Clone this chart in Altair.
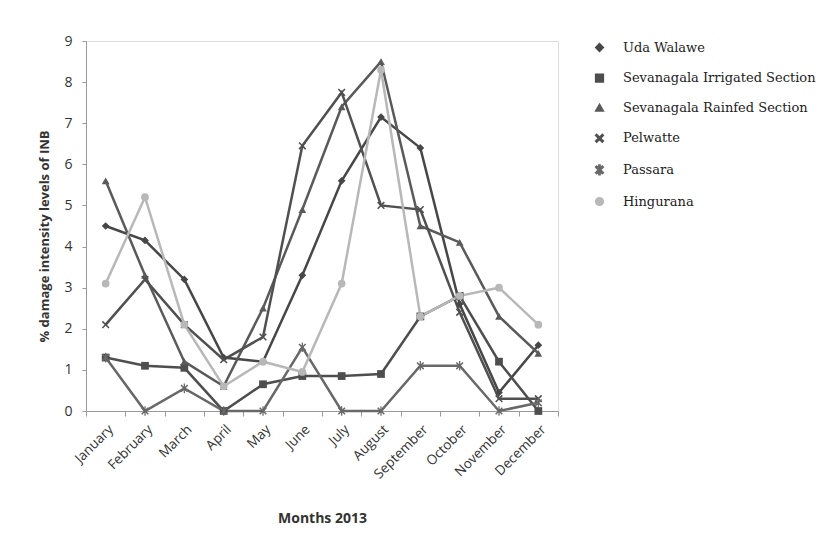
import altair as alt
import pandas as pd

months = ["January", "February", "March", "April", "May", "June", "July",
          "August", "September", "October", "November", "December"]
series_names = ["Uda Walawe", "Sevanagala Irrigated Section", "Sevanagala Rainfed Section",
                "Pelwatte", "Passara", "Hingurana"]

uda = [4.5, 4.15, 3.2, 1.3, 1.2, 3.3, 5.6, 7.15, 6.4, 2.6, 0.45, 1.6]
irrigated = [1.3, 1.1, 1.05, 0.0, 0.65, 0.85, 0.85, 0.9, 2.3, 2.8, 1.2, 0.0]
rainfed = [5.6, 3.3, 1.2, 0.6, 2.5, 4.9, 7.4, 8.5, 4.5, 4.1, 2.3, 1.4]
pelwatte = [2.1, 3.2, 2.1, 1.25, 1.8, 6.45, 7.75, 5.0, 4.9, 2.4, 0.3, 0.3]
passara = [1.3, 0.0, 0.55, 0.0, 0.0, 1.55, 0.0, 0.0, 1.1, 1.1, 0.0, 0.2]
hingurana = [3.1, 5.2, 2.1, 0.6, 1.2, 0.95, 3.1, 8.3, 2.3, 2.8, 3.0, 2.1]

y_ticks = [0, 1, 2, 3, 4, 5, 6, 7, 8, 9]

rows = []
for name, vals in zip(series_names, [uda, irrigated, rainfed, pelwatte, passara, hingurana]):
    for m, v in zip(months, vals):
        rows.append({"Month": m, "Series": name, "Value": v})
df = pd.DataFrame(rows)

colors = ["#474747", "#4e4e4e", "#5a5a5a", "#505050", "#686868", "#b8b8b8"]
# filled polygon versions of "x" and "asterisk" markers
X_PATH = ("M-1,-0.72L-0.28,0L-1,0.72L-0.72,1L0,0.28L0.72,1L1,0.72L0.28,0"
          "L1,-0.72L0.72,-1L0,-0.28L-0.72,-1Z")
STAR_PATH = X_PATH + "M-0.16,-1.25L-0.16,1.25L0.16,1.25L0.16,-1.25Z"
shapes = ["diamond", "square", "triangle-up", X_PATH, STAR_PATH, "circle"]

legend = alt.Legend(title=None, orient="none", legendX=507, legendY=0,
                    labelFont="DejaVu Serif", labelFontSize=13, labelColor="#222",
                    symbolSize=60, rowPadding=15.6, labelOffset=17, labelLimit=300)

color_scale = alt.Scale(domain=series_names, range=colors)

x_enc = alt.X("Month:N", sort=months, bandPosition=0.5,
              scale=alt.Scale(type="band", paddingInner=0, paddingOuter=0),
              axis=alt.Axis(title="Months 2013", labelAngle=-45, tickBand="extent",
                            labelFont="Open Sans", labelFontSize=13.5, labelColor="#333",
                            labelPadding=6, titleFont="Open Sans", titleFontSize=14,
                            titleFontWeight="bold", titleColor="#333", titlePadding=31,
                            domainColor="#999", tickColor="#999", tickSize=5))
y_enc = alt.Y("Value:Q", scale=alt.Scale(domain=[0, 9], nice=False),
              axis=alt.Axis(title="% damage intensity levels of INB", values=y_ticks,
                            grid=False, labelFont="Open Sans", labelFontSize=14,
                            labelColor="#333", labelPadding=10, titleFont="Open Sans",
                            titleFontSize=13, titleFontWeight="bold", titleColor="#333",
                            titlePadding=12, titleY=195, domainColor="#999",
                            tickColor="#999", tickSize=4))

lines = alt.Chart(df).mark_line(strokeWidth=2.5).encode(
    x=x_enc, y=y_enc,
    color=alt.Color("Series:N", scale=color_scale, legend=legend),
)

points = alt.Chart(df).mark_point(filled=True, size=60, opacity=1).encode(
    x=x_enc, y=y_enc,
    color=alt.Color("Series:N", scale=color_scale, legend=legend),
    shape=alt.Shape("Series:N", scale=alt.Scale(domain=series_names, range=shapes), legend=legend),
)

chart = alt.layer(lines, points).properties(
    width=472, height=370,
    autosize=alt.AutoSizeParams(type="none"),
    padding={"left": 78, "top": 33, "right": 270, "bottom": 125},
).configure_view(stroke=None).configure(background="white")

chart.save("out.html", embed_options={"renderer": "svg", "actions": False})
